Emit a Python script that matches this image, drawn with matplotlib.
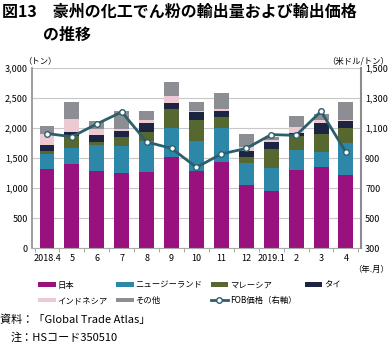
import matplotlib
matplotlib.use("Agg")
import matplotlib.pyplot as plt
from matplotlib.ticker import FixedLocator
import numpy as np

plt.rcParams['font.family'] = ['Noto Sans CJK JP', 'DejaVu Sans']

months = ["2018.4", "5", "6", "7", "8", "9", "10", "11", "12", "2019.1", "2", "3", "4"]
japan = [1320, 1395, 1280, 1245, 1260, 1510, 1280, 1435, 1055, 955, 1305, 1345, 1210]
nz = [250, 275, 430, 455, 520, 495, 510, 560, 365, 385, 335, 260, 535]
malaysia = [55, 190, 65, 150, 145, 305, 345, 195, 105, 315, 230, 295, 260]
thai = [95, 70, 110, 95, 155, 105, 130, 100, 85, 105, 50, 185, 105]
indonesia = [180, 215, 100, 35, 55, 110, 25, 30, 75, 40, 100, 55, 20]
others = [135, 280, 130, 295, 150, 240, 145, 270, 220, 45, 185, 100, 305]
fob = [1063, 1042, 1127, 1207, 1007, 964, 838, 927, 964, 1056, 1051, 1211, 938]

series = [
    ("日本", japan, "#98117F"),
    ("ニュージーランド", nz, "#2D87A8"),
    ("マレーシア", malaysia, "#56682F"),
    ("タイ", thai, "#1B2440"),
    ("インドネシア", indonesia, "#EDC9D3"),
    ("その他", others, "#8C8E93"),
]

fig = plt.figure(figsize=(3.91, 3.45), dpi=100)
ax = fig.add_axes([0.082, 0.281, 0.841, 0.522])
x = np.arange(len(months))
bottom = np.zeros(len(months))
handles = {}
for name, vals, col in series:
    b = ax.bar(x, vals, 0.6, bottom=bottom, color=col, label=name, zorder=2)
    handles[name] = b
    bottom += np.array(vals)

ax.set_ylim(0, 3000)
ax.set_xlim(-0.6, len(months) - 0.4)
ax.set_yticks(range(0, 3001, 500))
ax.set_yticklabels([f"{v:,}" for v in range(0, 3001, 500)], fontsize=6.5)
ax.yaxis.grid(True, color="#C8C8C8", linewidth=0.8, zorder=0)
ax.set_axisbelow(True)
ax.set_xticks(x)
ax.set_xticklabels(months, fontsize=6.5)
ax.tick_params(axis='x', length=0, pad=4)
ax.xaxis.set_minor_locator(FixedLocator(np.arange(-0.5, len(months), 1.0)))
ax.tick_params(axis='x', which='minor', length=3, color="#999999")
ax.tick_params(axis='y', length=0, pad=3)
ax.spines["top"].set_visible(False)
ax.spines["left"].set_color("#8C8C8C")
ax.spines["left"].set_linewidth(1.2)
ax.spines["bottom"].set_color("#AAAAAA")
ax.spines["right"].set_visible(False)

ax2 = ax.twinx()
ax2.set_ylim(300, 1500)
ax2.set_yticks(range(300, 1501, 200))
ax2.set_yticklabels([f"{v:,}" for v in range(300, 1501, 200)], fontsize=6.5)
ax2.tick_params(axis='y', length=0, pad=3)
line, = ax2.plot(x, fob, color="#2C5F6B", linewidth=2, marker="o", markersize=4,
                 markerfacecolor="white", markeredgecolor="#2C5F6B", markeredgewidth=1, zorder=3,
                 label="FOB価格（右軸）")
for s in ["top", "left", "bottom"]:
    ax2.spines[s].set_visible(False)
ax2.spines["right"].set_color("#8C8C8C")
ax2.spines["right"].set_linewidth(1.5)

fig.text(0.005, 0.965, "図13　豪州の化工でん粉の輸出量および輸出価格", fontsize=11.5, fontweight="bold", va="center")
fig.text(0.11, 0.9, "の推移", fontsize=11.5, fontweight="bold", va="center")
fig.text(0.06, 0.823, "（トン）", fontsize=6, va="center")
fig.text(0.995, 0.823, "（米ドル/トン）", fontsize=6, va="center", ha="right")
fig.text(0.995, 0.218, "（年.月）", fontsize=6, va="center", ha="right")

order = ["日本", "インドネシア", "ニュージーランド", "その他", "マレーシア", None, "タイ"]
hs, ls = [], []
for n in order:
    if n is None:
        hs.append(line); ls.append("FOB価格（右軸）")
    else:
        hs.append(handles[n]); ls.append(n)
fig.legend(hs, ls, ncol=4, loc="center", bbox_to_anchor=(0.485, 0.151), frameon=False,
           fontsize=6, handlelength=2.1, handleheight=0.5, columnspacing=1.0, handletextpad=0.2,
           labelspacing=0.75)

fig.text(0.0, 0.072, "資料：「Global Trade Atlas」", fontsize=8, va="center")
fig.text(0.027, 0.023, "注：HSコード350510", fontsize=8, va="center")

fig.savefig("out.png", dpi=100)
